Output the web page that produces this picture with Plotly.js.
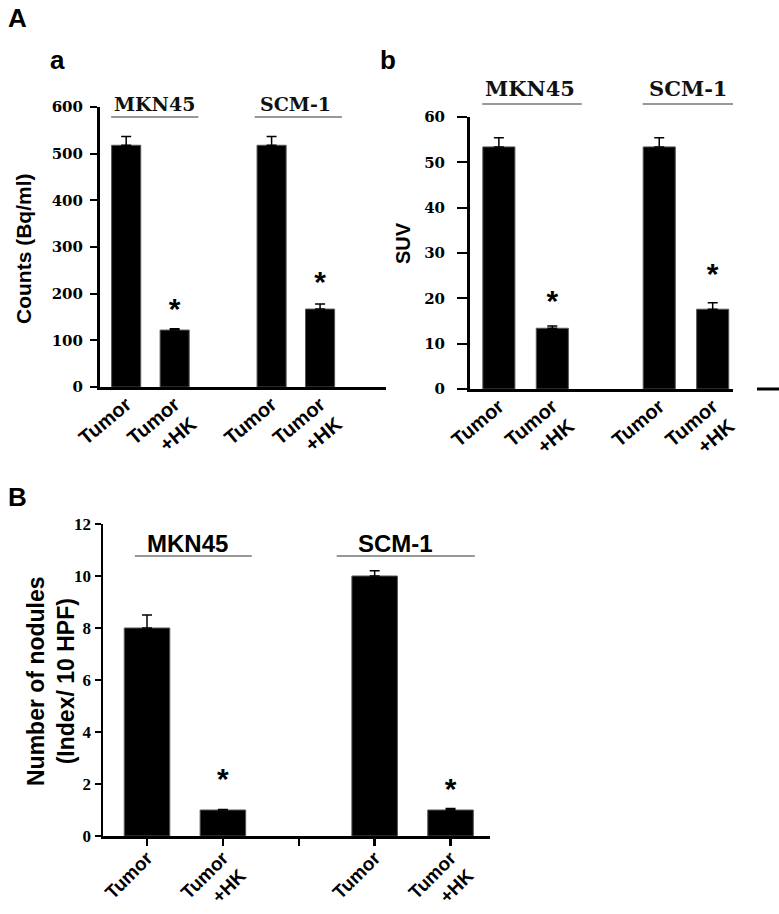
<!DOCTYPE html>
<html>
<head>
<meta charset="utf-8">
<script src="https://cdn.plot.ly/plotly-3.0.1.min.js"></script>
<style>
  html, body { margin: 0; padding: 0; background: #fff; }
  #fig { width: 779px; height: 914px; }
</style>
</head>
<body>
<div id="fig"></div>
<script>
// cell lines and conditions
var groups = ['MKN45', 'SCM-1'];
var conditions = ['Tumor', 'Tumor<br>+HK'];

// A-a: counts (Bq/ml), order: MKN45 Tumor, MKN45 +HK, SCM-1 Tumor, SCM-1 +HK
var countsMean = [518, 122, 518, 167];
var countsErr = [19, 3, 19, 11];
var countsStar = [null, 162, null, 220];

// A-b: SUV
var suvMean = [53.4, 13.4, 53.4, 17.6];
var suvErr = [2.0, 0.5, 2.0, 1.4];
var suvStar = [null, 18.9, null, 24.8];

// B: number of nodules
var nodMean = [8.0, 1.0, 10.0, 1.0];
var nodErr = [0.5, 0.02, 0.2, 0.06];
var nodStar = [null, 2.10, null, 1.71];

var W = 779, H = 914;
function fx(p) { return p / W; }
function fy(p) { return 1 - p / H; }

// bar positions: one empty slot between the two cell lines
var xpos = [];
var tickText = [];
groups.forEach(function (g, gi) {
  conditions.forEach(function (c, ci) { xpos.push(gi * 3 + ci); tickText.push(c); });
});

var sans = 'Arial, "Liberation Sans", sans-serif';

function barTrace(mean, err, xa, ya) {
  return {
    type: 'bar', x: xpos, y: mean, xaxis: xa, yaxis: ya, width: 0.6,
    marker: { color: '#000', line: { color: '#555', width: 1 } },
    error_y: { type: 'data', array: err, arrayminus: err.map(function () { return 0; }),
               symmetric: false, color: '#000', thickness: 1.5, width: 5 },
    hoverinfo: 'y', showlegend: false
  };
}
function starTrace(star, xa, ya, size) {
  return {
    type: 'scatter', mode: 'text', x: xpos, y: star, xaxis: xa, yaxis: ya,
    text: star.map(function (s) { return s === null ? '' : '*'; }),
    textposition: 'middle center',
    textfont: { family: sans, size: size, color: '#000', weight: 'bold' },
    hoverinfo: 'skip', showlegend: false
  };
}

var data = [
  barTrace(countsMean, countsErr, 'x', 'y'),
  starTrace(countsStar, 'x', 'y', 30),
  barTrace(suvMean, suvErr, 'x2', 'y2'),
  starTrace(suvStar, 'x2', 'y2', 30),
  barTrace(nodMean, nodErr, 'x3', 'y3'),
  starTrace(nodStar, 'x3', 'y3', 30)
];

var serifWide = { family: '"DejaVu Serif", serif', size: 15, color: '#000', weight: 'bold' };
var serifB = { family: '"Liberation Serif", "Times New Roman", serif', size: 17, color: '#000', weight: 'bold' };

function xAxis(dom, range, anchor, lw, showTicks, angle, size, lblOff, extraTicks) {
  return {
    domain: dom, range: range, anchor: anchor, showgrid: false, zeroline: false,
    showline: true, linecolor: '#000', linewidth: lw,
    tickmode: 'array',
    tickvals: extraTicks ? [0, 1, 2, 3, 4] : xpos,
    ticktext: extraTicks ? [tickText[0], tickText[1], '', tickText[2], tickText[3]] : tickText,
    ticks: showTicks ? 'outside' : '', ticklen: 7, tickwidth: 2.5, tickcolor: '#000',
    tickangle: angle, ticklabelstandoff: lblOff,
    tickfont: { family: sans, size: size, color: '#000', weight: 'bold' },
    fixedrange: true
  };
}
function yAxis(dom, range, dtick, anchor, lw, tlen, tfont, lblOff) {
  return {
    domain: dom, range: range, dtick: dtick, anchor: anchor, showgrid: false, zeroline: false,
    showline: true, linecolor: '#000', linewidth: lw,
    ticks: 'outside', ticklen: tlen, tickwidth: 2, tickcolor: '#000',
    ticklabelstandoff: lblOff, tickfont: tfont, fixedrange: true
  };
}

var layout = {
  width: W, height: H,
  margin: { l: 0, r: 0, t: 0, b: 0 },
  paper_bgcolor: '#fff', plot_bgcolor: 'rgba(0,0,0,0)',
  font: { family: sans, color: '#000' },
  xaxis: xAxis([fx(100), fx(386)], [-0.54, 5.36], 'y', 3, false, -40, 20, -5, false),
  yaxis: yAxis([fy(387), fy(107)], [0, 600], 100, 'x', 3, 7, serifWide, 4),
  xaxis2: xAxis([fx(470), fx(733)], [-0.54, 4.38], 'y2', 3, false, -40, 20, -5, false),
  yaxis2: yAxis([fy(389), fy(117)], [0, 60], 10, 'x2', 3, 10, serifWide, 9),
  xaxis3: xAxis([fx(103), fx(490)], [-0.58, 4.52], 'y3', 2.5, true, -45, 19, -6, true),
  yaxis3: yAxis([fy(836), fy(524)], [0, 12], 2, 'x3', 2.5, 6, serifB, 0),
  annotations: [],
  shapes: []
};

// y axis titles (placed by hand, rotated)
[['Counts (Bq/ml)', 23, 249, 21], ['SUV', 403, 243, 20],
 ['Number of nodules<br>(Index/ 10 HPF)', 51, 681, 23]].forEach(function (t) {
  layout.annotations.push({
    text: t[0], xref: 'paper', yref: 'paper', x: fx(t[1]), y: fy(t[2]),
    xanchor: 'center', yanchor: 'middle', textangle: -90, showarrow: false,
    font: { family: sans, size: t[3], color: '#000', weight: 'bold' }
  });
});

// panel letters
[['A', 6, 18], ['a', 48, 60], ['b', 378, 60], ['B', 6, 497]].forEach(function (p) {
  layout.annotations.push({
    text: p[0], xref: 'paper', yref: 'paper', x: fx(p[1]), y: fy(p[2]),
    xanchor: 'left', yanchor: 'middle', showarrow: false,
    font: { family: sans, size: 26, color: '#000', weight: 'bold' }
  });
});

// cell line labels with underline bars
var groupLabels = [
  { xr: 'x', font: { family: '"DejaVu Serif", serif', size: 19, color: '#111', weight: 'bold' },
    ty: 104, ly: 117, tx: [0.59, 3.5], lc: [0.59, 3.55], hw: [0.9, 0.9] },
  { xr: 'x2', font: { family: '"DejaVu Serif", serif', size: 21, color: '#111', weight: 'bold' },
    ty: 89, ly: 104, tx: [0.58, 3.53], lc: [0.62, 3.61], hw: [0.93, 0.92] },
  { xr: 'x3', font: { family: sans, size: 24, color: '#000', weight: 'bold' },
    ty: 543, ly: 556, tx: [0.53, 3.28], lc: [0.61, 3.41], hw: [0.77, 0.91] }
];
groupLabels.forEach(function (gl) {
  groups.forEach(function (g, gi) {
    layout.annotations.push({
      text: g, xref: gl.xr, yref: 'paper', x: gl.tx[gi], y: fy(gl.ty),
      xanchor: 'center', yanchor: 'middle', showarrow: false, font: gl.font
    });
    layout.shapes.push({
      type: 'line', xref: gl.xr, yref: 'paper',
      x0: gl.lc[gi] - gl.hw[gi], x1: gl.lc[gi] + gl.hw[gi], y0: fy(gl.ly), y1: fy(gl.ly),
      line: { color: '#333', width: 1.2 }
    });
  });
});

// short stray baseline segment at the right edge of panel b
layout.shapes.push({
  type: 'line', xref: 'paper', yref: 'paper', x0: fx(757), x1: fx(779), y0: fy(389), y1: fy(389),
  line: { color: '#000', width: 3 }
});

var config = { displayModeBar: false, staticPlot: true };

Plotly.newPlot('fig', data, layout, config);
</script>
</body>
</html>
